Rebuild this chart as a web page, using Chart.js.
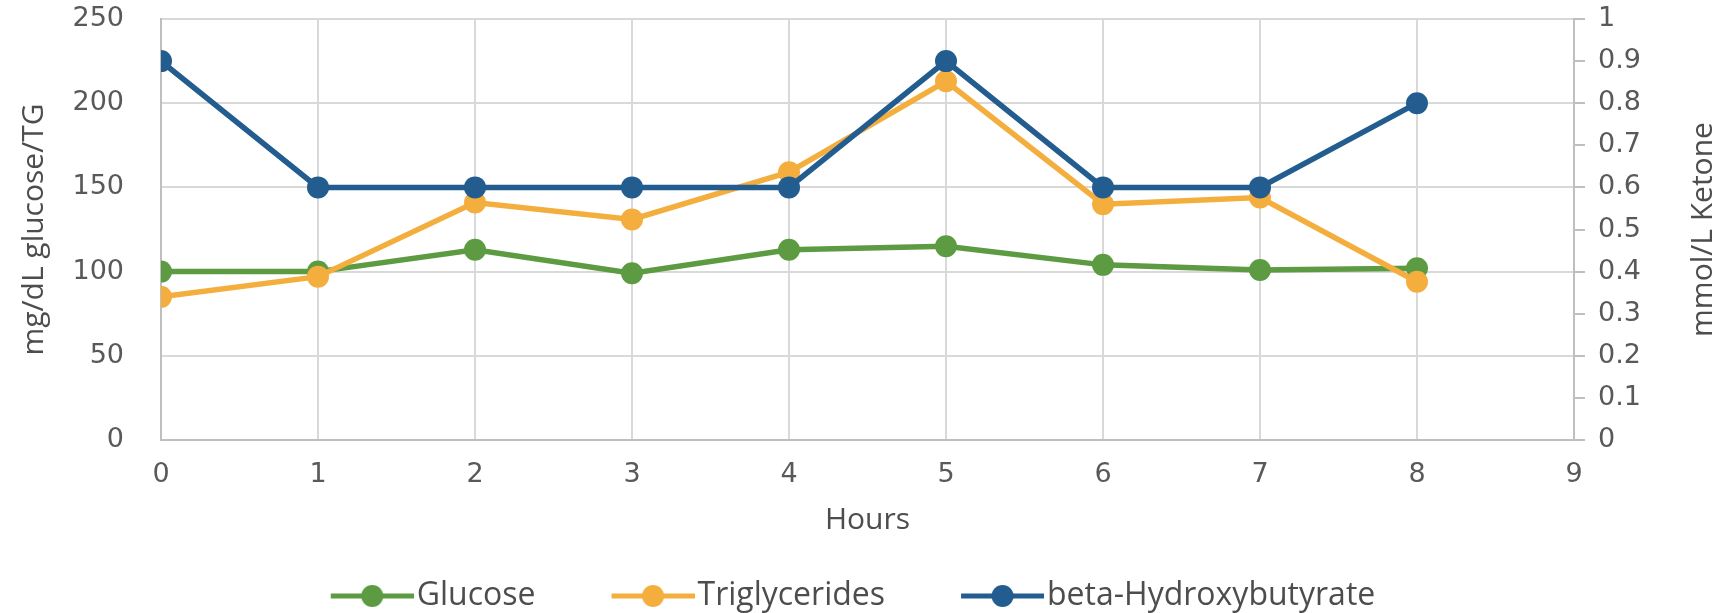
<!DOCTYPE html>
<html>
<head>
<meta charset="utf-8">
<title>Glucose, TG and ketone by hour</title>
<script src="https://cdn.jsdelivr.net/npm/chart.js@4.4.1/dist/chart.umd.min.js"></script>
<style>
  html, body { margin: 0; padding: 0; background: #fff; }
  #wrap { width: 1725px; height: 613px; }
</style>
</head>
<body>
<div id="wrap"><canvas id="lineChart" width="1725" height="613"></canvas></div>
<script>
// ------------ data ------------ //
var hours = [0, 1, 2, 3, 4, 5, 6, 7, 8];
var glucose = [100, 100, 113, 99, 113, 115, 104, 101, 102];
var triglycerides = [85, 97, 141, 131, 159, 213, 140, 144, 94];
var ketone = [0.9, 0.6, 0.6, 0.6, 0.6, 0.9, 0.6, 0.6, 0.8];

var seriesNames = ["Glucose", "Triglycerides", "beta-Hydroxybutyrate"];
var seriesColors = ['#5c9b41', '#f4ae3e', '#235c8f'];

var leftTicks = [0, 50, 100, 150, 200, 250];
var rightTicks = [0, 0.1, 0.2, 0.3, 0.4, 0.5, 0.6, 0.7, 0.8, 0.9, 1];
var xTicks = [0, 1, 2, 3, 4, 5, 6, 7, 8, 9];

function pairs(ys) {
    return hours.map(function (h, i) { return { x: h, y: ys[i] }; });
}

// legend marker: line with a dot, drawn on a small canvas (left part is blank spacing)
function legendMark(color) {
    var c = document.createElement('canvas');
    c.width = 162;
    c.height = 24;
    var g = c.getContext('2d');
    g.strokeStyle = color;
    g.lineWidth = 5;
    g.beginPath();
    g.moveTo(79, 12);
    g.lineTo(162, 12);
    g.stroke();
    g.fillStyle = color;
    g.beginPath();
    g.arc(120.5, 12, 11, 0, Math.PI * 2);
    g.fill();
    return c;
}

var tickFont = { family: "DejaVu Sans", size: 27 };
var titleFont = { family: "Open Sans", size: 30 };
var legendFont = { family: "Open Sans", size: 32 };

// right axis title reads bottom to top, like the left one
var rightTitle = {
    id: 'rightTitle',
    afterDraw: function (chart) {
        var ctx = chart.ctx;
        var a = chart.chartArea;
        ctx.save();
        ctx.translate(1703, (a.top + a.bottom) / 2);
        ctx.rotate(-Math.PI / 2);
        ctx.font = '30px "Open Sans"';
        ctx.fillStyle = '#4d4d4d';
        ctx.textAlign = 'center';
        ctx.textBaseline = 'middle';
        ctx.fillText("mmol/L Ketone", 0, 0);
        ctx.restore();
    }
};

function dataset(i, values, axis) {
    return {
        label: seriesNames[i],
        data: pairs(values),
        yAxisID: axis,
        borderColor: seriesColors[i],
        backgroundColor: seriesColors[i],
        borderWidth: 5.5,
        pointRadius: 11,
        pointBorderWidth: 0,
        pointHoverRadius: 11,
        order: 3 - i,
        tension: 0
    };
}

new Chart(document.getElementById('lineChart'), {
    type: 'line',
    data: {
        datasets: [
            dataset(0, glucose, 'y'),
            dataset(1, triglycerides, 'y'),
            dataset(2, ketone, 'y1')
        ]
    },
    options: {
        responsive: false,
        animation: false,
        layout: { padding: { top: 19, left: 0, right: 85, bottom: -9 } },
        plugins: {
            tooltip: { enabled: false },
            legend: {
                position: 'bottom',
                labels: {
                    usePointStyle: true,
                    pointStyleWidth: 136,
                    padding: 10,
                    color: '#4d4d4d',
                    font: legendFont,
                    sort: function (a, b) { return a.datasetIndex - b.datasetIndex; },
                    generateLabels: function (chart) {
                        var items = Chart.defaults.plugins.legend.labels.generateLabels(chart);
                        items.forEach(function (it) {
                            it.pointStyle = legendMark(seriesColors[it.datasetIndex]);
                        });
                        return items;
                    }
                }
            }
        },
        scales: {
            x: {
                type: 'linear',
                min: 0,
                max: 9,
                afterBuildTicks: function (s) { s.ticks = xTicks.map(function (v) { return { value: v }; }); },
                afterFit: function (s) { s.height = 130; },
                ticks: { color: '#595959', font: tickFont, padding: 19 },
                grid: { color: '#d9d9d9', lineWidth: 2, drawTicks: false },
                border: { color: '#bfbfbf', width: 2 },
                title: { display: true, text: "Hours", color: '#4d4d4d', font: titleFont, padding: { top: 0, bottom: 32 } }
            },
            y: {
                position: 'left',
                min: 0,
                max: 250,
                afterBuildTicks: function (s) { s.ticks = leftTicks.map(function (v) { return { value: v }; }); },
                afterFit: function (s) { s.width = 161; s.paddingTop = 10; s.paddingBottom = 10; },
                ticks: { color: '#595959', font: tickFont, padding: 37 },
                grid: { color: '#d9d9d9', lineWidth: 2, drawTicks: false },
                border: { color: '#bfbfbf', width: 2 },
                title: { display: true, text: "mg/dL glucose/TG", color: '#4d4d4d', font: titleFont, padding: { top: 16, bottom: 0 } }
            },
            y1: {
                position: 'right',
                min: 0,
                max: 1,
                afterBuildTicks: function (s) { s.ticks = rightTicks.map(function (v) { return { value: v }; }); },
                afterFit: function (s) { s.width = 66; s.paddingTop = 10; s.paddingBottom = 10; },
                ticks: {
                    color: '#595959',
                    font: tickFont,
                    padding: 13,
                    callback: function (v) { return String(Math.round(v * 10) / 10); }
                },
                grid: { drawOnChartArea: false, color: '#bfbfbf', lineWidth: 2, tickLength: 11 },
                border: { color: '#bfbfbf', width: 2 }
            }
        }
    },
    plugins: [rightTitle]
});
</script>
</body>
</html>
